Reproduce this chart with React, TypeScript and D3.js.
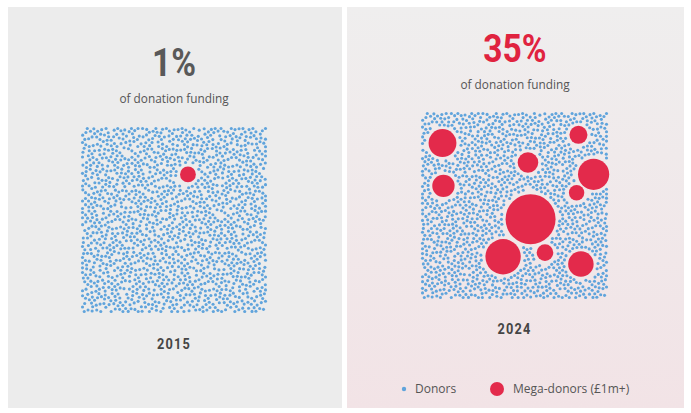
import { useEffect, useMemo } from "react";
import * as d3 from "d3";

// ---- data ----
const years = ["2015", "2024"];
const shareLabels = ["1%", "35%"];
const donorCounts = [1560, 1290];
// mega-donor positions on a 0-100 grid inside each square, size = relative amount
const megaX2015 = [57.5];
const megaY2015 = [25.5];
const megaSize2015 = [10];
const megaX2024 = [11.5, 84.2, 57.2, 92.3, 12.0, 83.2, 58.6, 43.9, 66.3, 85.5];
const megaY2024 = [16.6, 12.2, 27.0, 33.3, 39.5, 43.2, 57.3, 77.4, 75.2, 81.3];
const megaSize2024 = [31, 13, 17, 39, 20, 9.5, 100, 50, 11, 26];
const legendLabels = ["Donors", "Mega-donors (£1m+)"];

const W = 691;
const H = 413;
const COLORS = {
  dot: "#60a4dc",
  mega: "#e32a4b",
  titleGray: "#595959",
  titleRed: "#e0233f",
  text: "#555555",
  year: "#454545",
};
const FONT = "'Open Sans', 'Noto Sans', sans-serif";
const BOLD = "Roboto, 'Liberation Sans', sans-serif";

const rScale = d3.scaleSqrt().domain([0, 100]).range([0, 25]);

function halton(i: number, b: number) {
  let f = 1, r = 0;
  while (i > 0) {
    f /= b;
    r += f * (i % b);
    i = Math.floor(i / b);
  }
  return r;
}

type Circle = { x: number; y: number; r: number };
type Node = { x: number; y: number; r: number; fx?: number; fy?: number };

// spread donor dots over the square, clear of the mega-donor circles
function layout(n: number, circles: Circle[], x0: number, x1: number, y0: number, y1: number) {
  const pts: Node[] = [];
  let i = 1;
  while (pts.length < n && i < 100000) {
    const px = x0 + halton(i, 2) * (x1 - x0);
    const py = y0 + halton(i, 3) * (y1 - y0);
    i++;
    if (circles.some((c) => Math.hypot(px - c.x, py - c.y) < c.r + 2.5)) continue;
    pts.push({ x: px, y: py, r: 1.95 });
  }
  const fixed: Node[] = circles.map((c) => ({ x: c.x, y: c.y, fx: c.x, fy: c.y, r: c.r + 2.2 }));
  const sim = d3
    .forceSimulation([...pts, ...fixed] as any)
    .force("collide", d3.forceCollide((d: any) => d.r).iterations(2))
    .stop();
  for (let t = 0; t < 90; t++) {
    sim.tick();
    for (const p of pts) {
      p.x = Math.max(x0 + 1.5, Math.min(x1 - 1.5, p.x));
      p.y = Math.max(y0 + 1.5, Math.min(y1 - 1.5, p.y));
    }
  }
  return pts;
}

export default function App() {
  useEffect(() => {
    document.body.style.margin = "0";
  }, []);

  const panels = useMemo(() => {
    const defs = [
      { x0: 81, x1: 267, y0: 127, y1: 313, mx: megaX2015, my: megaY2015, ms: megaSize2015 },
      { x0: 421, x1: 608, y0: 112, y1: 299, mx: megaX2024, my: megaY2024, ms: megaSize2024 },
    ];
    return defs.map((d, k) => {
      const xs = d3.scaleLinear().domain([0, 100]).range([d.x0, d.x1]);
      const ys = d3.scaleLinear().domain([0, 100]).range([d.y0, d.y1]);
      const circles = d.mx.map((v, j) => ({ x: xs(v), y: ys(d.my[j]), r: rScale(d.ms[j]) }));
      const dots = layout(donorCounts[k], circles, d.x0, d.x1, d.y0, d.y1);
      return { circles, dots, cx: (d.x0 + d.x1) / 2 };
    });
  }, []);

  const p0 = panels[0];
  const p1 = panels[1];

  const narrow = (x: number, y: number, sx: number) => `translate(${x},${y}) scale(${sx},1)`;

  return (
    <svg width={W} height={H} style={{ display: "block" }}>
      <defs>
        <linearGradient id="pinkBg" x1="0" y1="0" x2="0" y2="1">
          <stop offset="0%" stopColor="#efeeee" />
          <stop offset="100%" stopColor="#f2e3e6" />
        </linearGradient>
        <filter id="grain" x="0" y="0" width="100%" height="100%">
          <feTurbulence type="fractalNoise" baseFrequency="0.9" numOctaves="2" seed="3" result="n" />
          <feColorMatrix in="n" type="matrix" values="0 0 0 0 0.85  0 0 0 0 0.85  0 0 0 0 0.85  0 0 0 0.08 0" />
        </filter>
      </defs>
      <rect x={0} y={0} width={W} height={H} fill="#ffffff" />
      <rect x={8} y={7} width={334} height={401} fill="#ececec" />
      <rect x={347} y={7} width={337} height={401} fill="url(#pinkBg)" />
      <rect x={8} y={7} width={334} height={401} filter="url(#grain)" />
      <rect x={347} y={7} width={337} height={401} filter="url(#grain)" />

      {/* 2015 */}
      <text transform={narrow(174, 76, 0.86)} textAnchor="middle" fontFamily={BOLD} fontWeight={700} fontSize={39} fill={COLORS.titleGray}>
        {shareLabels[0]}
      </text>
      <text x={174} y={103} textAnchor="middle" fontFamily={FONT} fontSize={11.8} fill={COLORS.text}>
        of donation funding
      </text>
      <g>
        {p0.dots.map((d, i) => (
          <circle key={i} cx={d.x} cy={d.y} r={1.55} fill={COLORS.dot} />
        ))}
        {p0.circles.map((c, i) => (
          <circle key={i} cx={c.x} cy={c.y} r={c.r} fill={COLORS.mega} />
        ))}
      </g>
      <text transform={narrow(p0.cx, 349, 0.85)} textAnchor="middle" fontFamily={BOLD} fontWeight={700} fontSize={15} letterSpacing={1.4} fill={COLORS.year}>
        {years[0]}
      </text>

      {/* 2024 */}
      <text transform={narrow(515, 62, 0.86)} textAnchor="middle" fontFamily={BOLD} fontWeight={700} fontSize={39} fill={COLORS.titleRed}>
        {shareLabels[1]}
      </text>
      <text x={515} y={89} textAnchor="middle" fontFamily={FONT} fontSize={11.8} fill={COLORS.text}>
        of donation funding
      </text>
      <g>
        {p1.dots.map((d, i) => (
          <circle key={i} cx={d.x} cy={d.y} r={1.55} fill={COLORS.dot} />
        ))}
        {p1.circles.map((c, i) => (
          <circle key={i} cx={c.x} cy={c.y} r={c.r} fill={COLORS.mega} />
        ))}
      </g>
      <text transform={narrow(p1.cx, 334, 0.85)} textAnchor="middle" fontFamily={BOLD} fontWeight={700} fontSize={15} letterSpacing={1.4} fill={COLORS.year}>
        {years[1]}
      </text>

      {/* legend */}
      <circle cx={404} cy={389} r={2.2} fill={COLORS.dot} />
      <text x={415} y={393} fontFamily={FONT} fontSize={12} fill={COLORS.text}>
        {legendLabels[0]}
      </text>
      <circle cx={497} cy={389} r={7} fill={COLORS.mega} />
      <text x={513} y={393} fontFamily={FONT} fontSize={12} fill={COLORS.text}>
        {legendLabels[1]}
      </text>
    </svg>
  );
}
